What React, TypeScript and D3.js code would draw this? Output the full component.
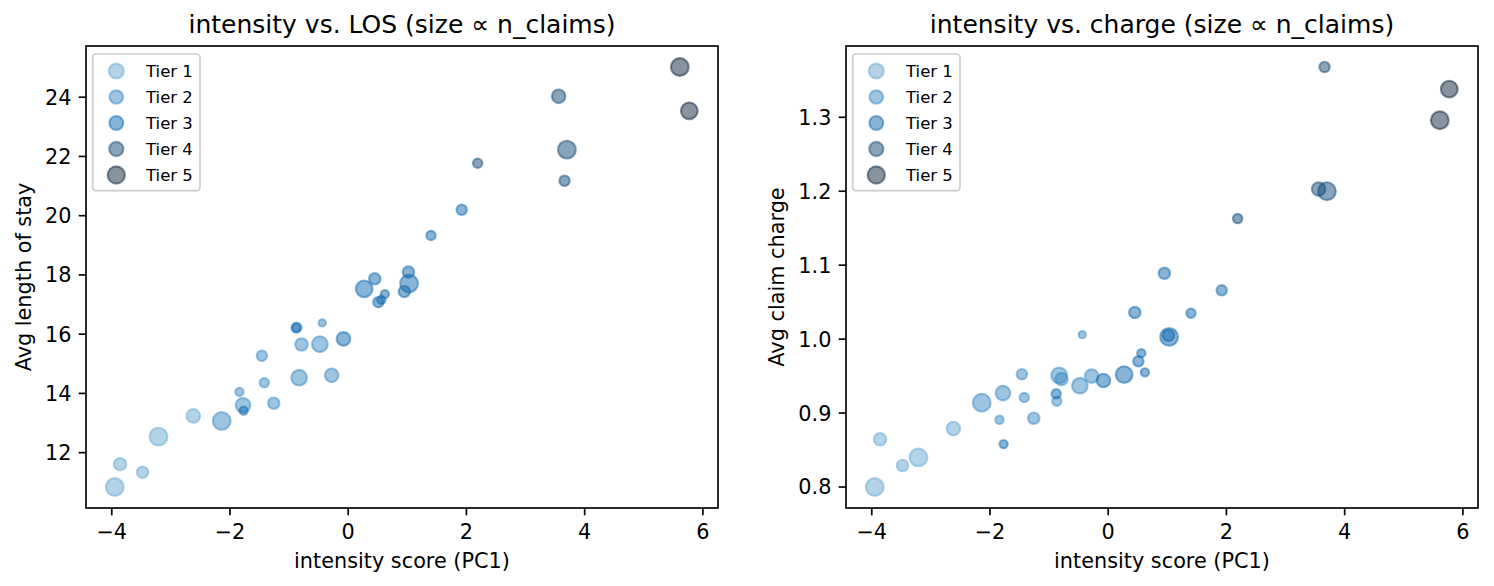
import React from 'react';
import * as d3 from 'd3';

// ---- data ----
const intensity = [
  -3.95, -3.86, -3.48, -3.21, -2.62,
  -2.14, -1.78, -1.77, -1.84, -1.26, -1.42, -1.46, -0.83, -0.28, -0.88, -0.87, -0.44, -0.79, -0.48, -0.08,
  0.27, 0.45, 0.62, 0.56, 0.51, 0.95, 1.02, 1.03, 1.40, 1.92,
  2.19, 3.56, 3.70, 3.66,
  5.61, 5.77,
];
const avgLos = [
  10.84, 11.61, 11.34, 12.54, 13.24,
  13.07, 13.60, 13.42, 14.05, 13.67, 14.36, 15.27, 14.53, 14.61, 16.21, 16.23, 16.38, 15.65, 15.66, 15.84,
  17.53, 17.87, 17.35, 17.16, 17.08, 17.44, 18.10, 17.71, 19.33, 20.20,
  21.77, 24.03, 22.23, 21.18,
  25.02, 23.54,
];
const avgCharge = [
  0.800, 0.8645, 0.829, 0.840, 0.879,
  0.914, 0.927, 0.858, 0.891, 0.893, 0.921, 0.9525, 0.951, 0.950, 0.926, 0.916, 1.006, 0.946, 0.937, 0.944,
  0.952, 1.036, 0.955, 0.981, 0.970, 1.089, 1.005, 1.003, 1.035, 1.066,
  1.163, 1.203, 1.200, 1.368,
  1.296, 1.338,
];
const nClaims = [
  2630, 1300, 1100, 2630, 1530,
  2630, 1780, 575, 575, 1100, 730, 900, 2050, 1530, 730, 730, 440, 1300, 2050, 1530,
  2330, 1100, 575, 575, 900, 1100, 1100, 2630, 730, 900,
  730, 1530, 2630, 900,
  2630, 2330,
];
const tier = [
  1, 1, 1, 1, 1,
  2, 2, 3, 2, 2, 2, 2, 2, 2, 3, 2, 2, 2, 2, 3,
  3, 3, 3, 3, 3, 3, 3, 3, 3, 3,
  4, 4, 4, 4,
  5, 5,
];
const tierNames = ['Tier 1', 'Tier 2', 'Tier 3', 'Tier 4', 'Tier 5'];
const tierColors = ['#67a7d1', '#3b89c3', '#0f69af', '#144b78', '#10273e'];
const xTicks = [-4, -2, 0, 2, 4, 6];
const losTicks = [12, 14, 16, 18, 20, 22, 24];
const chargeTicks = [0.8, 0.9, 1.0, 1.1, 1.2, 1.3];

// ---- layout ----
const W = 1494;
const H = 586;
const FONT = 'DejaVu Sans, Liberation Sans, sans-serif';
const PX = 150 / 72;
const ALPHA = 0.5;
const SW = 1.0 * PX;

const radius = (n: number) => (Math.sqrt(n / 36) / 2) * PX;

const fmtMinus = (v: number, dec: number) => {
  const s = v.toFixed(dec);
  return s.replace('-', '\u2212');
};

function padExtent(vals: number[]): [number, number] {
  const [a, b] = d3.extent(vals) as [number, number];
  const p = (b - a) * 0.05;
  return [a - p, b + p];
}

type PanelProps = {
  left: number;
  yVals: number[];
  yTicks: number[];
  yDec: number;
  title: string;
  yLabel: string;
  yLabelOffset: number;
};

const TOP = 46;
const BOTTOM = 508;
const PW = 632;

function Panel({ left, yVals, yTicks, yDec, title, yLabel, yLabelOffset }: PanelProps) {
  const x = d3.scaleLinear().domain(padExtent(intensity)).range([left, left + PW]);
  const y = d3.scaleLinear().domain(padExtent(yVals)).range([BOTTOM, TOP]);
  const idx = d3.range(intensity.length);
  const tickLen = 3.5 * PX;
  const tickPad = 3.5 * PX;

  // legend marker sizes: mean of min & max sizes within tier (matplotlib behaviour)
  const legendSizes = tierNames.map((_, t) => {
    const ns = idx.filter((i) => tier[i] === t + 1).map((i) => nClaims[i]);
    return 0.5 * ((d3.max(ns) as number) + (d3.min(ns) as number));
  });

  const lgLeft = left + 6.7;
  const lgTop = 54;
  const rowY = (t: number) => 71 + t * 26;

  return (
    <g>
      <text x={left + PW / 2} y={33} textAnchor="middle" fontSize={25} fontFamily={FONT} fill="#000">
        {title}
      </text>
      {/* points, drawn tier by tier */}
      {tierNames.map((_, t) => (
        <g key={t}>
          {idx
            .filter((i) => tier[i] === t + 1)
            .map((i) => (
              <circle
                key={i}
                cx={x(intensity[i])}
                cy={y(yVals[i])}
                r={radius(nClaims[i])}
                fill={tierColors[t]}
                fillOpacity={ALPHA}
                stroke={tierColors[t]}
                strokeOpacity={ALPHA}
                strokeWidth={SW}
              />
            ))}
        </g>
      ))}
      {/* frame */}
      <rect x={left} y={TOP} width={PW} height={BOTTOM - TOP} fill="none" stroke="#000" strokeWidth={0.8 * PX} />
      {/* x ticks */}
      {xTicks.map((v) => (
        <g key={v}>
          <line x1={x(v)} x2={x(v)} y1={BOTTOM} y2={BOTTOM + tickLen} stroke="#000" strokeWidth={0.8 * PX} />
          <text x={x(v)} y={BOTTOM + tickLen + tickPad + 16} textAnchor="middle" fontSize={20.8} fontFamily={FONT} fill="#000">
            {fmtMinus(v, 0)}
          </text>
        </g>
      ))}
      {/* y ticks */}
      {yTicks.map((v) => (
        <g key={v}>
          <line x1={left - tickLen} x2={left} y1={y(v)} y2={y(v)} stroke="#000" strokeWidth={0.8 * PX} />
          <text x={left - tickLen - tickPad} y={y(v)} dy="0.36em" textAnchor="end" fontSize={20.8} fontFamily={FONT} fill="#000">
            {fmtMinus(v, yDec)}
          </text>
        </g>
      ))}
      <text x={left + PW / 2} y={568} textAnchor="middle" fontSize={20.8} fontFamily={FONT} fill="#000">
        intensity score (PC1)
      </text>
      <text
        transform={`translate(${left - yLabelOffset},${(TOP + BOTTOM) / 2}) rotate(-90)`}
        textAnchor="middle"
        fontSize={20.8}
        fontFamily={FONT}
        fill="#000"
      >
        {yLabel}
      </text>
      {/* legend */}
      <rect x={lgLeft} y={lgTop} width={107.3} height={136.7} rx={3.3} fill="#fff" fillOpacity={0.8} stroke="#cccccc" strokeWidth={0.8 * PX} />
      {tierNames.map((name, t) => (
        <g key={name}>
          <circle
            cx={left + 30.3}
            cy={rowY(t)}
            r={radius(legendSizes[t])}
            fill={tierColors[t]}
            fillOpacity={ALPHA}
            stroke={tierColors[t]}
            strokeOpacity={ALPHA}
            strokeWidth={SW}
          />
          <text x={left + 60} y={rowY(t)} dy="0.36em" fontSize={16.5} fontFamily={FONT} fill="#000">
            {name}
          </text>
        </g>
      ))}
    </g>
  );
}

export default function App() {
  return (
    <svg width={W} height={H} style={{ position: 'absolute', left: 0, top: 0, background: '#fff' }}>
      <rect x={0} y={0} width={W} height={H} fill="#fff" />
      <Panel
        left={86}
        yVals={avgLos}
        yTicks={losTicks}
        yDec={0}
        title={'intensity vs. LOS (size \u221d n_claims)'}
        yLabel="Avg length of stay"
        yLabelOffset={55}
      />
      <Panel
        left={846}
        yVals={avgCharge}
        yTicks={chargeTicks}
        yDec={1}
        title={'intensity vs. charge (size \u221d n_claims)'}
        yLabel="Avg claim charge"
        yLabelOffset={62}
      />
    </svg>
  );
}
